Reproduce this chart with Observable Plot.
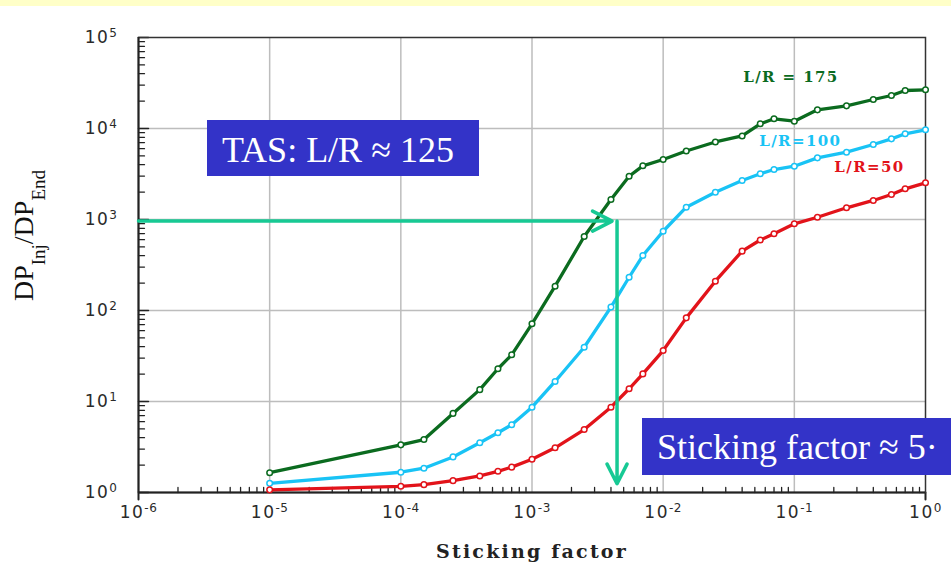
<!DOCTYPE html>
<html><head><meta charset="utf-8">
<script src="https://cdn.jsdelivr.net/npm/d3@7"></script>
<script src="https://cdn.jsdelivr.net/npm/@observablehq/plot@0.6"></script>
<style>
html,body{margin:0;padding:0;background:#fff;overflow:hidden;}
#wrap{position:relative;width:951px;height:574px;overflow:hidden;background:#fff;}
#wrap svg{position:absolute;left:0;top:0;}
#band{position:absolute;left:0;top:0;width:951px;height:6px;background:#ffffc8;z-index:2;}
.box{position:absolute;background:#3333c8;color:#fff;font-family:"Liberation Serif","Times New Roman",serif;font-size:36px;white-space:nowrap;z-index:3;box-sizing:border-box;}
#tas{left:207px;top:120px;width:272px;height:56px;padding:6px 0 0 15px;line-height:48px;}
#stick{left:642px;top:418px;width:309px;height:57px;padding:5px 0 0 15px;line-height:48px;}
</style></head><body><div id="wrap"><div id="band"></div>
<div class="box" id="tas">TAS: L/R ≈ 125</div>
<div class="box" id="stick">Sticking factor ≈ 5·</div>
</div>
<script>
// ---- data ----
const stickingFactor = [1e-5,1e-4,1.5e-4,2.5e-4,4e-4,5.5e-4,7e-4,1e-3,1.5e-3,2.5e-3,4e-3,5.5e-3,7e-3,1e-2,1.5e-2,2.5e-2,4e-2,5.5e-2,7e-2,1e-1,1.5e-1,2.5e-1,4e-1,5.5e-1,7e-1,1];
const lr175 = [1.65,3.34,3.82,7.4,13.5,22.9,32.6,71.4,185,650,1660,2990,3890,4560,5660,7110,8280,11270,12780,12030,16030,17730,20830,23050,26160,26620];
const lr100 = [1.26,1.67,1.85,2.46,3.52,4.53,5.55,8.66,16.6,39.5,109,232,402,743,1365,1995,2683,3180,3540,3850,4760,5490,6670,7700,8750,9680];
const lr50  = [1.07,1.17,1.22,1.35,1.52,1.71,1.90,2.32,3.10,4.92,8.66,13.8,20.1,36.3,83,210,449,595,697,897,1059,1345,1619,1883,2174,2530];
const seriesNames = ["L/R = 175","L/R=100","L/R=50"];
const seriesColors = ["#0b6b1f","#19c3f5","#e2131a"];
const labelX = [0.0408,0.054,0.2018];
const labelY = [37000,7250,3760];
const xDecades = [1e-6,1e-5,1e-4,1e-3,1e-2,1e-1,1];
const yDecades = [1,10,100,1e3,1e4,1e5];
const xTickLabels = ["10^-6","10^-5","10^-4","10^-3","10^-2","10^-1","10^0"];
const yTickLabels = ["10^0","10^1","10^2","10^3","10^4","10^5"];
const arrowLevel = 960;      // DP ratio marked by horizontal arrow
const arrowStickEnd = 4.08e-3;
const arrowStick = 4.45e-3;  // sticking factor marked by vertical arrow
const arrowBottom = 1.25;
const xAxisTitle = "Sticking factor";

// ---- build tables ----
const rows = [];
[lr175, lr100, lr50].forEach((vals, i) => vals.forEach((v, j) => rows.push({series: seriesNames[i], x: stickingFactor[j], y: v})));
const xMinor = [], yMinor = [];
xDecades.slice(0, -1).forEach(d => { for (let k = 2; k <= 9; k++) xMinor.push(d * k); });
yDecades.slice(0, -1).forEach(d => { for (let k = 2; k <= 9; k++) yMinor.push(d * k); });

const teal = "#17c994";
const plot = Plot.plot({
  width: 951, height: 574,
  marginLeft: 138, marginRight: 26, marginTop: 37, marginBottom: 82,
  x: {type: "log", domain: [1e-6, 1], axis: null},
  y: {type: "log", domain: [1, 1e5], axis: null},
  color: {domain: seriesNames, range: seriesColors},
  style: {background: "transparent", overflow: "visible"},
  marks: [
    Plot.gridX(xDecades.slice(1, -1), {stroke: "#bdbdbd", strokeOpacity: 1, strokeWidth: 1.5}),
    Plot.gridY(yDecades.slice(1, -1), {stroke: "#bdbdbd", strokeOpacity: 1, strokeWidth: 1.5}),
    Plot.vector(yMinor, {x: () => 1e-6, y: d => d, length: 6, rotate: 90, anchor: "start", r: 0, stroke: "#222", strokeWidth: 1.3}),
    Plot.vector(yDecades, {x: () => 1e-6, y: d => d, length: 10, rotate: 90, anchor: "start", r: 0, stroke: "#222", strokeWidth: 1.5}),
    Plot.vector(xMinor, {x: d => d, y: () => 1, length: 5, rotate: 0, anchor: "start", r: 0, stroke: "#222", strokeWidth: 1.3}),
    Plot.vector([1e-6, 1], {x: d => d, y: () => 1, length: 7, rotate: 180, anchor: "start", r: 0, stroke: "#222", strokeWidth: 2}),
    Plot.frame({stroke: "#333", strokeWidth: 1.5}),
    Plot.ruleX([1e-6], {stroke: "#222", strokeWidth: 2}),
    Plot.ruleY([1], {stroke: "#222", strokeWidth: 2}),
    Plot.line(rows, {x: "x", y: "y", z: "series", stroke: "series", strokeWidth: 3.3}),
    Plot.dot(rows, {x: "x", y: "y", stroke: "series", fill: "white", r: 2.8, strokeWidth: 1.5}),
    Plot.text(seriesNames, {x: (d, i) => labelX[i], y: (d, i) => labelY[i], text: d => d, fill: d => d, textAnchor: "start", fontFamily: "DejaVu Serif", fontWeight: "bold", fontSize: 15}),
    Plot.arrow([0], {x1: () => 1e-6, y1: () => arrowLevel, x2: () => arrowStickEnd, y2: () => arrowLevel, stroke: teal, strokeWidth: 3.5, headLength: 9.4, headAngle: 54}),
    Plot.arrow([0], {x1: () => arrowStick, y1: () => arrowLevel, x2: () => arrowStick, y2: () => arrowBottom, stroke: teal, strokeWidth: 3.5, headLength: 9.4, headAngle: 54}),
    Plot.text(xDecades, {x: d => d, y: () => 1, text: (d, i) => xTickLabels[i], dy: 20, fontSize: 17, fontFamily: "DejaVu Sans", fill: "#2a2a2a"}),
    Plot.text(yDecades, {x: () => 1e-6, y: d => d, text: (d, i) => yTickLabels[i], textAnchor: "end", dx: -21, fontSize: 17, fontFamily: "DejaVu Sans", fill: "#2a2a2a"}),
    Plot.text([xAxisTitle], {frameAnchor: "bottom", dy: 65, text: d => d, fontFamily: "DejaVu Serif", fontWeight: "bold", fontSize: 19, fill: "#222"})
  ]
});

const svg = d3.select(plot);
svg.selectAll("text").each(function () {
  const sel = d3.select(this);
  const t = this.textContent;
  const m = /^10\^(-?\d)$/.exec(t);
  if (m) {
    sel.text(null).style("letter-spacing", "1.5px");
    sel.append("tspan").text("10");
    sel.append("tspan").attr("dy", "-0.5em").attr("font-size", "12px").style("letter-spacing", "0.5px").text(m[1]);
  } else if (t.startsWith("L/R")) {
    sel.style("letter-spacing", "1.4px");
  } else if (t === xAxisTitle) {
    sel.style("letter-spacing", "2.2px");
  }
});
// y-axis title with subscripts
const yt = svg.append("text")
  .attr("transform", "translate(33,170) rotate(-90)")
  .attr("text-anchor", "end")
  .attr("font-family", "Liberation Serif, Times New Roman, serif")
  .attr("font-size", 28)
  .attr("fill", "#111");
yt.append("tspan").text("DP");
yt.append("tspan").attr("font-size", 19).attr("dy", 12).text("Inj");
yt.append("tspan").attr("dy", -12).text("/DP");
yt.append("tspan").attr("font-size", 19).attr("dy", 12).text("End");

document.getElementById("wrap").appendChild(plot);
</script>
</body></html>
